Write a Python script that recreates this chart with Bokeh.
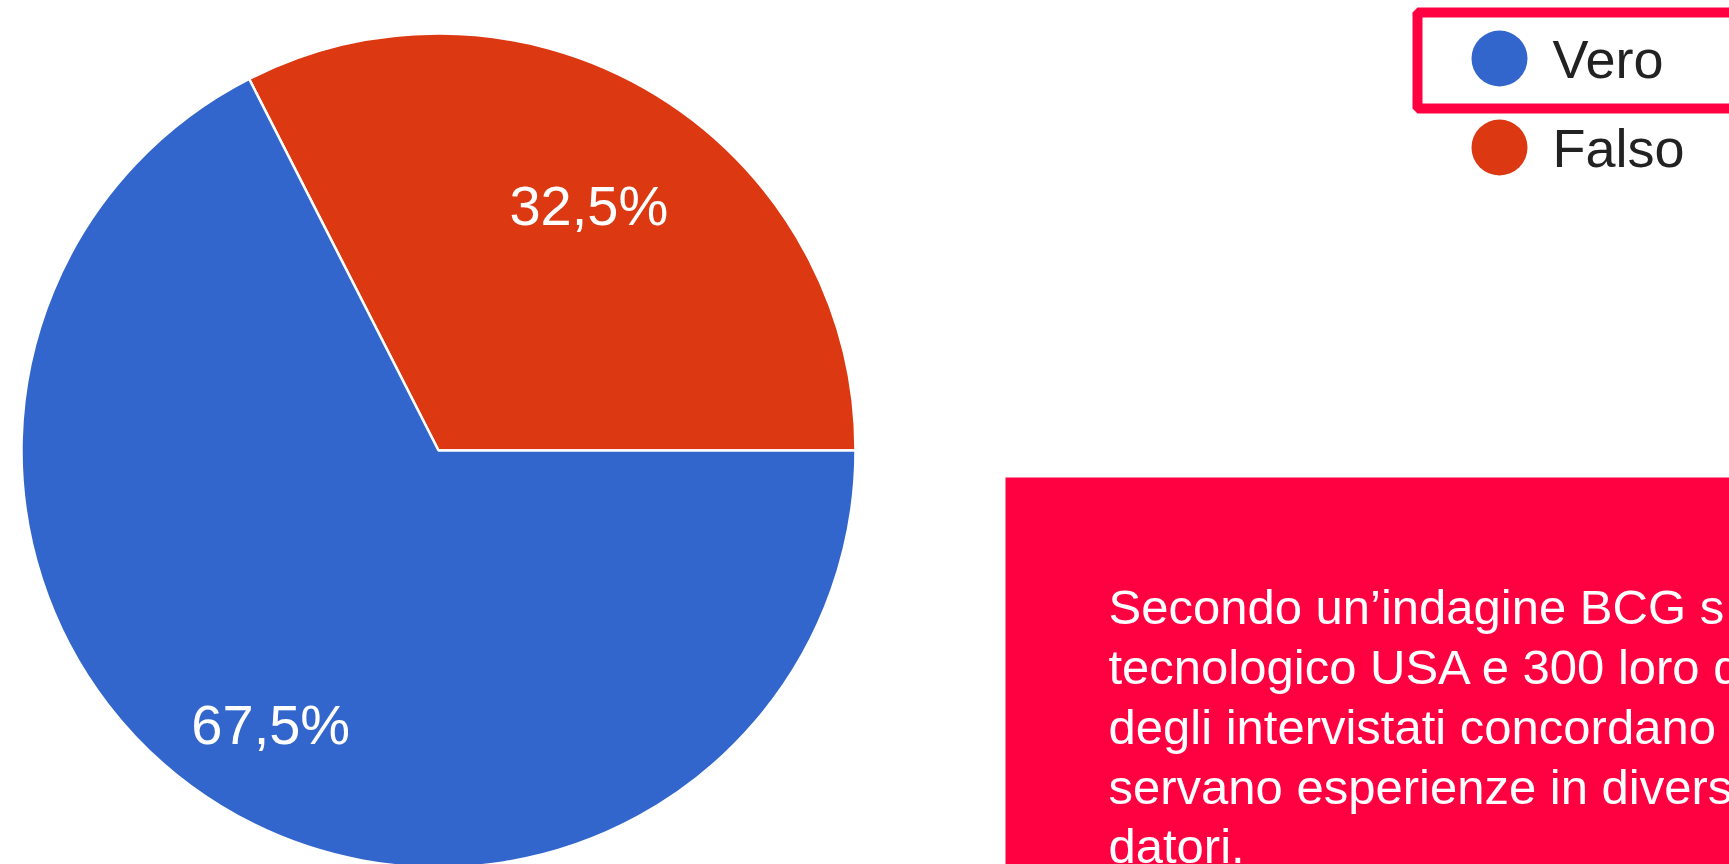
import math
from bokeh.plotting import figure
from bokeh.models import Range1d, ColumnDataSource
from bokeh.core.properties import value
from bokeh.embed import file_html
from bokeh.resources import INLINE

# ---- data ----
categories = ["Falso", "Vero"]
percentages = [32.5, 67.5]
pct_labels = ["32,5%", "67,5%"]
slice_colors = ["#DC3912", "#3366CC"]
legend_order = ["Vero", "Falso"]
legend_colors = ["#3366CC", "#DC3912"]
note_lines = [
    "Secondo un\u2019indagine BCG s",
    "tecnologico USA e 300 loro d",
    "degli intervistati concordano",
    "servano esperienze in divers",
    "datori.",
]

W, H = 1729, 864
FONT = value("Liberation Sans")


def Y(y):  # screen px -> data y
    return H - y


p = figure(width=W, height=H, output_backend="svg", toolbar_location=None,
           x_range=Range1d(0, W), y_range=Range1d(0, H), min_border=0)
p.axis.visible = False
p.grid.visible = False
p.outline_line_color = None
p.background_fill_color = "white"
p.border_fill_color = "white"

# ---- pie ----
cx, cy, r = 438, 450, 417
total = sum(percentages)
starts, ends = [], []
acc = 0.0
for v in percentages:
    starts.append(acc / total * 2 * math.pi)
    acc += v
    ends.append(acc / total * 2 * math.pi)

src = ColumnDataSource(dict(start=starts, end=ends, color=slice_colors))
p.wedge(x=cx, y=Y(cy), radius=r, start_angle="start", end_angle="end",
        fill_color="color", line_color="white", line_width=2.5, source=src)

label_frac = [0.69, 0.77]
lx, ly = [], []
for s, e, f in zip(starts, ends, label_frac):
    m = (s + e) / 2
    lx.append(cx + f * r * math.cos(m))
    ly.append(Y(cy) + f * r * math.sin(m))
p.text(x=lx, y=ly, text=pct_labels, text_color="white", text_font=FONT,
       text_font_size="56px", text_align="center", text_baseline="middle")

# ---- legend ----
leg_y = [58, 147]
p.scatter(x=[1499] * 2, y=[Y(v) for v in leg_y], size=56, marker="circle",
          fill_color=legend_colors, line_color=None)
p.text(x=[1552] * 2, y=[Y(v) for v in leg_y], text=legend_order,
       text_color="#222222", text_font=FONT, text_font_size="54px",
       text_align="left", text_baseline="middle")
p.quad(left=1417, right=1800, top=Y(12), bottom=Y(108), fill_color=None,
       line_color="#FF0040", line_width=10)

# ---- note box ----
p.quad(left=1005, right=1800, top=Y(477), bottom=Y(900),
       fill_color="#FF0040", line_color=None)
mid = [606, 666, 726, 786, 845]
p.text(x=[1108] * len(note_lines), y=[Y(b) for b in mid], text=note_lines,
       text_color="white", text_font=FONT, text_font_size="49px",
       text_align="left", text_baseline="middle")

open("out.html", "w").write(file_html(p, INLINE))
